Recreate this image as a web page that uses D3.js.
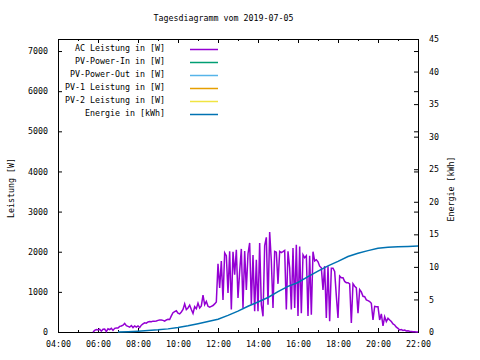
<!DOCTYPE html>
<html><head><meta charset="utf-8">
<script src="https://cdn.jsdelivr.net/npm/d3@7"></script>
<style>
body{margin:0;background:#fff}
text{font-family:"DejaVu Sans Mono",monospace;font-size:8.3px;fill:#000}
</style>
</head><body>
<svg id="c" width="480" height="360"></svg>
<script>
const title = "Tagesdiagramm vom 2019-07-05";
const yLabel = "Leistung [W]";
const y2Label = "Energie [kWh]";

// AC power, one reading every 5 minutes starting 05:45
const acStart = "05:45";
const acStepMinutes = 5;
const acPower = [
  0, 40, 60,
  50, 70, 20, 70, 75, 10, 80, 60, 90, 40, 90, 100,
  100, 140, 150, 170, 215, 160, 140, 120, 160, 110, 150, 120,
  150, 110, 170, 200, 230, 220, 250, 260, 255, 270, 265, 275,
  290, 300, 300, 290, 270, 300, 315, 310, 400, 480, 510, 530,
  470, 450, 500, 560, 700, 560, 600, 670, 560, 465, 630, 580,
  720, 600, 650, 920, 680, 760, 640, 620, 640, 660, 700, 750,
  1700, 1100, 1770, 800, 1970, 1900, 970, 2010, 560, 2000, 1430, 2050,
  850, 1510, 2070, 600, 2020, 1050, 1950, 2220, 680, 1920, 515, 1800,
  515, 2220, 680, 390, 2150, 2360, 680, 2490, 1770, 600, 2010, 1990,
  1200, 2010, 1980, 2000, 2030, 560, 2010, 1600, 560, 2090, 600, 2175,
  400, 2130, 470, 1925, 1850, 1900, 400, 1900, 430, 2000, 1770, 1800,
  1750, 1640, 1600, 1050, 1640, 350, 1640, 270, 1590, 1590, 1510, 900,
  350, 1395, 1350, 1350, 1260, 1230, 1230, 1200, 225, 1200, 1140, 1100,
  470, 1055, 1000, 890, 880, 800, 780, 760, 715, 300, 640, 630,
  630, 300, 450, 150, 380, 260, 340, 300, 260, 200, 175, 120,
  90, 50, 60, 40, 50, 25, 30, 20, 15, 5, 5, 0,
  0
];

// Energy in kWh, every 30 minutes starting 07:00
const energyStart = "07:00";
const energyStepMinutes = 30;
const energy = [
  0.0, 0.05, 0.12, 0.22, 0.33, 0.48, 0.68, 0.95, 1.27, 1.62,
  1.95, 2.55, 3.2, 3.95, 4.6, 5.3, 6.2, 7.0, 7.6, 8.5,
  9.35, 10.15, 10.85, 11.6, 12.1, 12.5, 12.85, 13.0, 13.1, 13.15, 13.2
];

// series without visible data
const pvPowerIn = [];
const pvPowerOut = [];
const pv1 = [];
const pv2 = [];

const legendLabels = ["AC Leistung in [W]", "PV-Power-In in [W]", "PV-Power-Out in [W]",
                      "PV-1 Leistung in [W]", "PV-2 Leistung in [W]", "Energie in [kWh]"];
const legendColors = ["#9400d3", "#009e73", "#56b4e9", "#e69f00", "#f0e442", "#0072b2"];

const xTickLabels = ["04:00","06:00","08:00","10:00","12:00","14:00","16:00","18:00","20:00","22:00"];
const xMinorLabels = ["05:00","07:00","09:00","11:00","13:00","15:00","17:00","19:00","21:00"];
const yTicks = [0,1000,2000,3000,4000,5000,6000,7000];
const y2Ticks = [0,5,10,15,20,25,30,35,40,45];
const yMax = 7300, y2Max = 45;

const parse = d3.timeParse("%H:%M");
const fmt = d3.timeFormat("%H:%M");

const L = 58, R = 418, T = 39, B = 332;
const svg = d3.select("#c");

const x = d3.scaleTime().domain([parse("04:00"), parse("22:00")]).range([L, R]);
const y = d3.scaleLinear().domain([0, yMax]).range([B, T]);
const y2 = d3.scaleLinear().domain([0, y2Max]).range([B, T]);

function series(start, step, vals) {
  const t0 = parse(start);
  return vals.map((v, i) => ({t: d3.timeMinute.offset(t0, i * step), v}));
}
const acData = series(acStart, acStepMinutes, acPower);
const enData = series(energyStart, energyStepMinutes, energy);

// title
svg.append("text").attr("x", 223.5).attr("y", 21).attr("text-anchor", "middle").text(title);

// axes
function clean(g){ g.select(".domain").remove(); g.selectAll("line").attr("stroke","#000"); g.selectAll("text").attr("fill","#000").style("font-family",'"DejaVu Sans Mono",monospace').style("font-size","8.3px"); }

svg.append("g").attr("transform", `translate(0,${B})`)
  .call(d3.axisBottom(x).tickValues(xTickLabels.map(parse)).tickFormat(fmt).tickSizeInner(-4).tickSizeOuter(0).tickPadding(9))
  .call(clean);
svg.append("g").attr("transform", `translate(0,${B})`)
  .call(d3.axisBottom(x).tickValues(xMinorLabels.map(parse)).tickFormat("").tickSizeInner(-2).tickSizeOuter(0))
  .call(clean);
svg.append("g").attr("transform", `translate(0,${T})`)
  .call(d3.axisTop(x).tickValues(xTickLabels.map(parse)).tickFormat("").tickSizeInner(-4).tickSizeOuter(0))
  .call(clean);
svg.append("g").attr("transform", `translate(0,${T})`)
  .call(d3.axisTop(x).tickValues(xMinorLabels.map(parse)).tickFormat("").tickSizeInner(-2).tickSizeOuter(0))
  .call(clean);

svg.append("g").attr("transform", `translate(${L},0)`)
  .call(d3.axisLeft(y).tickValues(yTicks).tickFormat(d3.format("d")).tickSizeInner(-4).tickSizeOuter(0).tickPadding(10))
  .call(clean);
svg.append("g").attr("transform", `translate(${R},0)`)
  .call(d3.axisRight(y).tickValues(yTicks).tickFormat("").tickSizeInner(-4).tickSizeOuter(0))
  .call(clean);
svg.append("g").attr("transform", `translate(${R},0)`)
  .call(d3.axisRight(y2).tickValues(y2Ticks).tickFormat(d3.format("d")).tickSizeInner(-4).tickSizeOuter(0).tickPadding(11))
  .call(clean);

// border
svg.append("rect").attr("x", L + 0.5).attr("y", T + 0.5).attr("width", R - L).attr("height", B - T)
  .attr("fill", "none").attr("stroke", "#000").attr("stroke-width", 1);

// axis labels
svg.append("text").attr("transform", `translate(13.5,188) rotate(-90)`).attr("text-anchor", "middle").text(yLabel);
svg.append("text").attr("transform", `translate(454,189) rotate(-90)`).attr("text-anchor", "middle").text(y2Label);

// lines
const lineW = d3.line().x(d => x(d.t)).y(d => y(d.v));
const lineE = d3.line().x(d => x(d.t)).y(d => y2(d.v));
svg.append("path").datum(acData).attr("d", lineW).attr("fill", "none")
  .attr("stroke", legendColors[0]).attr("stroke-width", 1.5).attr("stroke-linejoin", "miter");
[pvPowerIn, pvPowerOut, pv1, pv2].forEach((s, i) => {
  if (s.length) svg.append("path").datum(series(acStart, acStepMinutes, s)).attr("d", lineW)
    .attr("fill", "none").attr("stroke", legendColors[i + 1]).attr("stroke-width", 1.5);
});
svg.append("path").datum(enData).attr("d", lineE).attr("fill", "none")
  .attr("stroke", legendColors[5]).attr("stroke-width", 1.5);

// legend
const lg = svg.append("g");
legendLabels.forEach((lab, i) => {
  const ly = 49 + i * 13;
  lg.append("text").attr("x", 165).attr("y", ly + 1.5).attr("text-anchor", "end").text(lab);
  lg.append("line").attr("x1", 190).attr("x2", 218).attr("y1", ly + 0.5).attr("y2", ly + 0.5)
    .attr("stroke", legendColors[i]).attr("stroke-width", 1.5);
});
</script>
</body></html>
